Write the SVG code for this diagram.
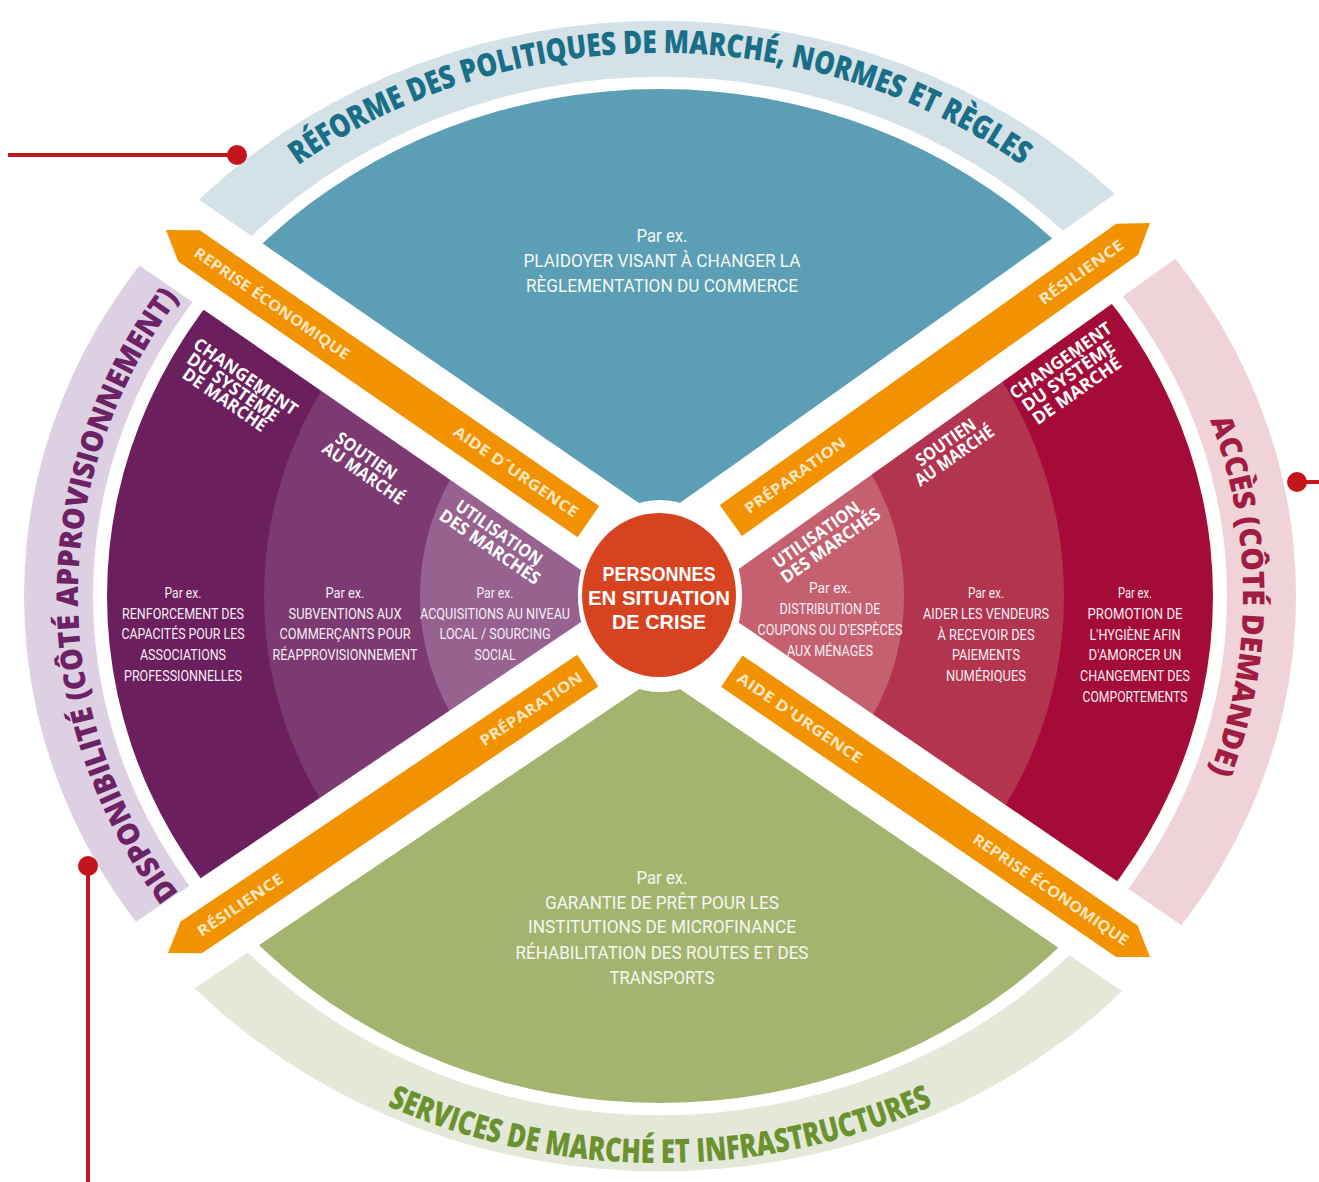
<svg xmlns="http://www.w3.org/2000/svg" width="1319" height="1182" viewBox="0 0 1319 1182">
<style>
.body{font-family:Roboto,"Liberation Sans",sans-serif;font-size:15px;fill:#f6ecf3;text-anchor:middle}
.big{font-size:17.5px;fill:#f4f7f2}
.head{font-family:"Open Sans","Liberation Sans",sans-serif;font-weight:700;font-size:17.5px;fill:#ffffff}
.arr{font-family:"Open Sans","Liberation Sans",sans-serif;font-weight:700;font-size:15px;fill:#fde6c2;text-anchor:middle}
.band{font-family:"Open Sans","Liberation Sans",sans-serif;font-weight:800;text-anchor:middle}
.seg{text-anchor:start}
.ctr{font-family:"Liberation Sans",Arial,sans-serif;font-weight:700;font-size:21px;fill:#ffffff;text-anchor:middle}
.strip{stroke:#ffffff;stroke-width:88;stroke-linecap:butt;fill:none}
.arrow{fill:#f39200}
.conn{stroke:#c3161c;stroke-width:4;fill:none}
.dot{fill:#c3161c}
</style>
<defs>
<clipPath id="qTop"><polygon points="660,571 -200,-22 -200,-300 1520,-300 1520,-40"/></clipPath>
<clipPath id="qLeft"><polygon points="660,571 660,622 -200,1201 -200,-22"/></clipPath>
<clipPath id="qRight"><polygon points="660,571 1520,-40 1520,1210 660,622"/></clipPath>
<clipPath id="qBottom"><polygon points="660,622 -200,1201 -200,1500 1520,1500 1520,1210"/></clipPath>
<path id="ring" d="M24 596A636 575 0 1 0 1296 596A636 575 0 1 0 24 596ZM93 596A567 519 0 1 0 1227 596A567 519 0 1 0 93 596Z" fill-rule="evenodd"/>
<path id="pTop" d="M66 596A594 543 0 0 1 1254 596"/>
<path id="pLeft" d="M660 1125A582 529 0 0 1 660 67"/>
<path id="pRight" d="M660 66A583 530 0 0 1 660 1126"/>
<path id="pBottom" d="M37 596A623 567 0 0 0 1283 596"/>
</defs>

<g id="band-top"><use href="#ring" fill="#d4e1e7" clip-path="url(#qTop)"/></g>
<g id="band-left"><use href="#ring" fill="#ddd0e2" clip-path="url(#qLeft)"/></g>
<g id="band-right"><use href="#ring" fill="#efd3d8" clip-path="url(#qRight)"/></g>
<g id="band-bottom"><use href="#ring" fill="#e3e8d8" clip-path="url(#qBottom)"/></g>

<g id="sector-top"><ellipse cx="660" cy="596" rx="553" ry="507" fill="#5b9eb6" clip-path="url(#qTop)"/></g>
<g id="sector-bottom"><ellipse cx="660" cy="596" rx="553" ry="507" fill="#a4b46f" clip-path="url(#qBottom)"/></g>
<g id="sector-left" clip-path="url(#qLeft)">
<ellipse cx="660" cy="596" rx="553" ry="507" fill="#6b1f5e"/>
<circle cx="660" cy="596" r="396" fill="#7c3a71"/>
<circle cx="660" cy="596" r="240" fill="#97628f"/>
</g>
<g id="sector-right" clip-path="url(#qRight)">
<ellipse cx="660" cy="596" rx="553" ry="507" fill="#a50b39"/>
<circle cx="660" cy="596" r="404" fill="#b3344f"/>
<circle cx="660" cy="596" r="244" fill="#c5616f"/>
</g>

<g id="gaps">
<line class="strip" x1="660" y1="571" x2="-200" y2="-22"/>
<line class="strip" x1="660" y1="571" x2="1520" y2="-40"/>
<line class="strip" x1="660" y1="622" x2="-200" y2="1201"/>
<line class="strip" x1="660" y1="622" x2="1520" y2="1210"/>
<ellipse cx="660" cy="596" rx="82" ry="96" fill="#ffffff"/>
</g>

<g id="arrow-tl"><polygon class="arrow" points="599.2,506 199.8,230.3 166,230 178.2,261.5 577.6,537.2"/>
<g transform="translate(272,303.3) rotate(34.6)"><text class="arr" x="0" y="5.5" textLength="185" lengthAdjust="spacingAndGlyphs">REPRISE ÉCONOMIQUE</text></g>
<g transform="translate(516,471.6) rotate(34.6)"><text class="arr" x="0" y="5.5" textLength="148" lengthAdjust="spacingAndGlyphs">AIDE D´URGENCE</text></g>
</g>
<g id="arrow-tr"><polygon class="arrow" points="741.9,536.1 1138.2,254.7 1150,223 1116.2,223.7 719.9,505.1"/>
<g transform="translate(795,475.2) rotate(-35.4)"><text class="arr" x="0" y="5.5" textLength="120" lengthAdjust="spacingAndGlyphs">PRÉPARATION</text></g>
<g transform="translate(1081,272) rotate(-35.4)"><text class="arr" x="0" y="5.5" textLength="100" lengthAdjust="spacingAndGlyphs">RÉSILIENCE</text></g>
</g>
<g id="arrow-bl"><polygon class="arrow" points="577.2,654.8 180.6,921.6 168,953 201.8,953.2 598.4,686.4"/>
<g transform="translate(240,904.7) rotate(-33.9)"><text class="arr" x="0" y="5.5" textLength="100" lengthAdjust="spacingAndGlyphs">RÉSILIENCE</text></g>
<g transform="translate(531,708.8) rotate(-33.9)"><text class="arr" x="0" y="5.5" textLength="120" lengthAdjust="spacingAndGlyphs">PRÉPARATION</text></g>
</g>
<g id="arrow-br"><polygon class="arrow" points="721.1,686.8 1116.2,956.9 1150,957 1137.6,925.5 742.5,655.4"/>
<g transform="translate(800,717.8) rotate(34.4)"><text class="arr" x="0" y="5.5" textLength="148" lengthAdjust="spacingAndGlyphs">AIDE D'URGENCE</text></g>
<g transform="translate(1051,889.4) rotate(34.4)"><text class="arr" x="0" y="5.5" textLength="185" lengthAdjust="spacingAndGlyphs">REPRISE ÉCONOMIQUE</text></g>
</g>

<g id="title-top"><text class="band" font-size="32" fill="#1a6f88"><textPath href="#pTop" startOffset="50%" textLength="770" lengthAdjust="spacingAndGlyphs">RÉFORME DES POLITIQUES DE MARCHÉ, NORMES ET RÈGLES</textPath></text></g>
<g id="title-left" font-size="30" fill="#6c2264">
<text class="band seg"><textPath href="#pLeft" startOffset="553.5" textLength="209" lengthAdjust="spacingAndGlyphs">DISPONIBILITÉ</textPath></text>
<text class="band seg"><textPath href="#pLeft" startOffset="770.2" textLength="84.5" lengthAdjust="spacingAndGlyphs">(CÔTÉ</textPath></text>
<text class="band seg"><textPath href="#pLeft" startOffset="862.3" textLength="199.7" lengthAdjust="spacingAndGlyphs">APPROVISION</textPath></text>
<text class="band seg"><textPath href="#pLeft" startOffset="1062" textLength="131.6" lengthAdjust="spacingAndGlyphs">NEMENT)</textPath></text>
</g>
<g id="title-right"><text class="band" font-size="30" fill="#a11b43"><textPath href="#pRight" startOffset="50%" textLength="360" lengthAdjust="spacingAndGlyphs">ACCÈS (CÔTÉ DEMANDE)</textPath></text></g>
<g id="title-bottom"><text class="band" font-size="33" fill="#6c9230"><textPath href="#pBottom" startOffset="50%" textLength="562" lengthAdjust="spacingAndGlyphs">SERVICES DE MARCHÉ ET INFRASTRUCTURES</textPath></text></g>

<g id="text-top">
<text class="body big" x="662" y="242" textLength="51" lengthAdjust="spacingAndGlyphs">Par ex.</text>
<text class="body big" x="662" y="267" textLength="277" lengthAdjust="spacingAndGlyphs">PLAIDOYER VISANT À CHANGER LA</text>
<text class="body big" x="662" y="292" textLength="272" lengthAdjust="spacingAndGlyphs">RÈGLEMENTATION DU COMMERCE</text>
</g>
<g id="text-bottom">
<text class="body big" x="662" y="884" textLength="51" lengthAdjust="spacingAndGlyphs">Par ex.</text>
<text class="body big" x="662" y="909" textLength="234" lengthAdjust="spacingAndGlyphs">GARANTIE DE PRÊT POUR LES</text>
<text class="body big" x="662" y="933" textLength="268" lengthAdjust="spacingAndGlyphs">INSTITUTIONS DE MICROFINANCE</text>
<text class="body big" x="662" y="959" textLength="293" lengthAdjust="spacingAndGlyphs">RÉHABILITATION DES ROUTES ET DES</text>
<text class="body big" x="662" y="984" textLength="105" lengthAdjust="spacingAndGlyphs">TRANSPORTS</text>
</g>

<g id="left-outer">
<g transform="translate(192,347) rotate(34.6)">
<text class="head" x="0" y="0" textLength="122" lengthAdjust="spacingAndGlyphs">CHANGEMENT</text>
<text class="head" x="3" y="16" textLength="107" lengthAdjust="spacingAndGlyphs">DU SYSTÈME</text>
<text class="head" x="8" y="31" textLength="98" lengthAdjust="spacingAndGlyphs">DE MARCHÉ</text>
</g>
<text class="body" x="183" y="598" textLength="37" lengthAdjust="spacingAndGlyphs">Par ex.</text>
<text class="body" x="183" y="619" textLength="122" lengthAdjust="spacingAndGlyphs">RENFORCEMENT DES</text>
<text class="body" x="183" y="639" textLength="123" lengthAdjust="spacingAndGlyphs">CAPACITÉS POUR LES</text>
<text class="body" x="183" y="660" textLength="86" lengthAdjust="spacingAndGlyphs">ASSOCIATIONS</text>
<text class="body" x="183" y="681" textLength="118" lengthAdjust="spacingAndGlyphs">PROFESSIONNELLES</text>
</g>
<g id="left-middle">
<g transform="translate(334,441) rotate(34.6)">
<text class="head" x="0" y="0" textLength="70" lengthAdjust="spacingAndGlyphs">SOUTIEN</text>
<text class="head" x="-5" y="16" textLength="95" lengthAdjust="spacingAndGlyphs">AU MARCHÉ</text>
</g>
<text class="body" x="345" y="598" textLength="39" lengthAdjust="spacingAndGlyphs">Par ex.</text>
<text class="body" x="345" y="619" textLength="113" lengthAdjust="spacingAndGlyphs">SUBVENTIONS AUX</text>
<text class="body" x="345" y="639" textLength="131" lengthAdjust="spacingAndGlyphs">COMMERÇANTS POUR</text>
<text class="body" x="345" y="660" textLength="145" lengthAdjust="spacingAndGlyphs">RÉAPPROVISIONNEMENT</text>
</g>
<g id="left-inner">
<g transform="translate(454,509) rotate(34.6)">
<text class="head" x="0" y="0" textLength="101" lengthAdjust="spacingAndGlyphs">UTILISATION</text>
<text class="head" x="-8" y="17" textLength="118" lengthAdjust="spacingAndGlyphs">DES MARCHÉS</text>
</g>
<text class="body" x="495" y="598" textLength="37" lengthAdjust="spacingAndGlyphs">Par ex.</text>
<text class="body" x="495" y="619" textLength="150" lengthAdjust="spacingAndGlyphs">ACQUISITIONS AU NIVEAU</text>
<text class="body" x="495" y="639" textLength="111" lengthAdjust="spacingAndGlyphs">LOCAL / SOURCING</text>
<text class="body" x="495" y="660" textLength="41" lengthAdjust="spacingAndGlyphs">SOCIAL</text>
</g>

<g id="right-inner">
<g transform="translate(778,569) rotate(-35)">
<text class="head" x="0" y="0" textLength="102" lengthAdjust="spacingAndGlyphs">UTILISATION</text>
<text class="head" x="-2" y="17" textLength="117" lengthAdjust="spacingAndGlyphs">DES MARCHÉS</text>
</g>
<text class="body" x="830" y="593" textLength="42" lengthAdjust="spacingAndGlyphs">Par ex.</text>
<text class="body" x="830" y="614" textLength="101" lengthAdjust="spacingAndGlyphs">DISTRIBUTION DE</text>
<text class="body" x="830" y="635" textLength="145" lengthAdjust="spacingAndGlyphs">COUPONS OU D'ESPÈCES</text>
<text class="body" x="830" y="656" textLength="86" lengthAdjust="spacingAndGlyphs">AUX MÉNAGES</text>
</g>
<g id="right-middle">
<g transform="translate(921,467) rotate(-35)">
<text class="head" x="0" y="0" textLength="69" lengthAdjust="spacingAndGlyphs">SOUTIEN</text>
<text class="head" x="-12" y="16" textLength="92" lengthAdjust="spacingAndGlyphs">AU MARCHÉ</text>
</g>
<text class="body" x="986" y="598" textLength="36" lengthAdjust="spacingAndGlyphs">Par ex.</text>
<text class="body" x="986" y="619" textLength="126" lengthAdjust="spacingAndGlyphs">AIDER LES VENDEURS</text>
<text class="body" x="986" y="640" textLength="97" lengthAdjust="spacingAndGlyphs">À RECEVOIR DES</text>
<text class="body" x="986" y="660" textLength="68" lengthAdjust="spacingAndGlyphs">PAIEMENTS</text>
<text class="body" x="986" y="681" textLength="80" lengthAdjust="spacingAndGlyphs">NUMÉRIQUES</text>
</g>
<g id="right-outer">
<g transform="translate(1015,400) rotate(-35)">
<text class="head" x="0" y="0" textLength="120" lengthAdjust="spacingAndGlyphs">CHANGEMENT</text>
<text class="head" x="3" y="17" textLength="109" lengthAdjust="spacingAndGlyphs">DU SYSTÈME</text>
<text class="head" x="4" y="34" textLength="104" lengthAdjust="spacingAndGlyphs">DE MARCHÉ</text>
</g>
<text class="body" x="1135" y="598" textLength="34" lengthAdjust="spacingAndGlyphs">Par ex.</text>
<text class="body" x="1135" y="619" textLength="95" lengthAdjust="spacingAndGlyphs">PROMOTION DE</text>
<text class="body" x="1135" y="640" textLength="91" lengthAdjust="spacingAndGlyphs">L'HYGIÈNE AFIN</text>
<text class="body" x="1135" y="660" textLength="93" lengthAdjust="spacingAndGlyphs">D'AMORCER UN</text>
<text class="body" x="1135" y="681" textLength="110" lengthAdjust="spacingAndGlyphs">CHANGEMENT DES</text>
<text class="body" x="1135" y="702" textLength="105" lengthAdjust="spacingAndGlyphs">COMPORTEMENTS</text>
</g>

<g id="center">
<ellipse cx="659" cy="595" rx="77" ry="82" fill="#d8431f"/>
<text class="ctr" x="659" y="581" textLength="113" lengthAdjust="spacingAndGlyphs">PERSONNES</text>
<text class="ctr" x="659" y="605" textLength="142" lengthAdjust="spacingAndGlyphs">EN SITUATION</text>
<text class="ctr" x="659" y="629" textLength="94" lengthAdjust="spacingAndGlyphs">DE CRISE</text>
</g>

<g id="connectors">
<line class="conn" x1="8" y1="155" x2="237" y2="155"/>
<circle class="dot" cx="237" cy="155" r="10"/>
<line class="conn" x1="1297" y1="482" x2="1319" y2="482"/>
<circle class="dot" cx="1297" cy="482" r="10"/>
<line class="conn" x1="88" y1="866" x2="88" y2="1182"/>
<circle class="dot" cx="88" cy="866" r="10"/>
</g>
</svg>
